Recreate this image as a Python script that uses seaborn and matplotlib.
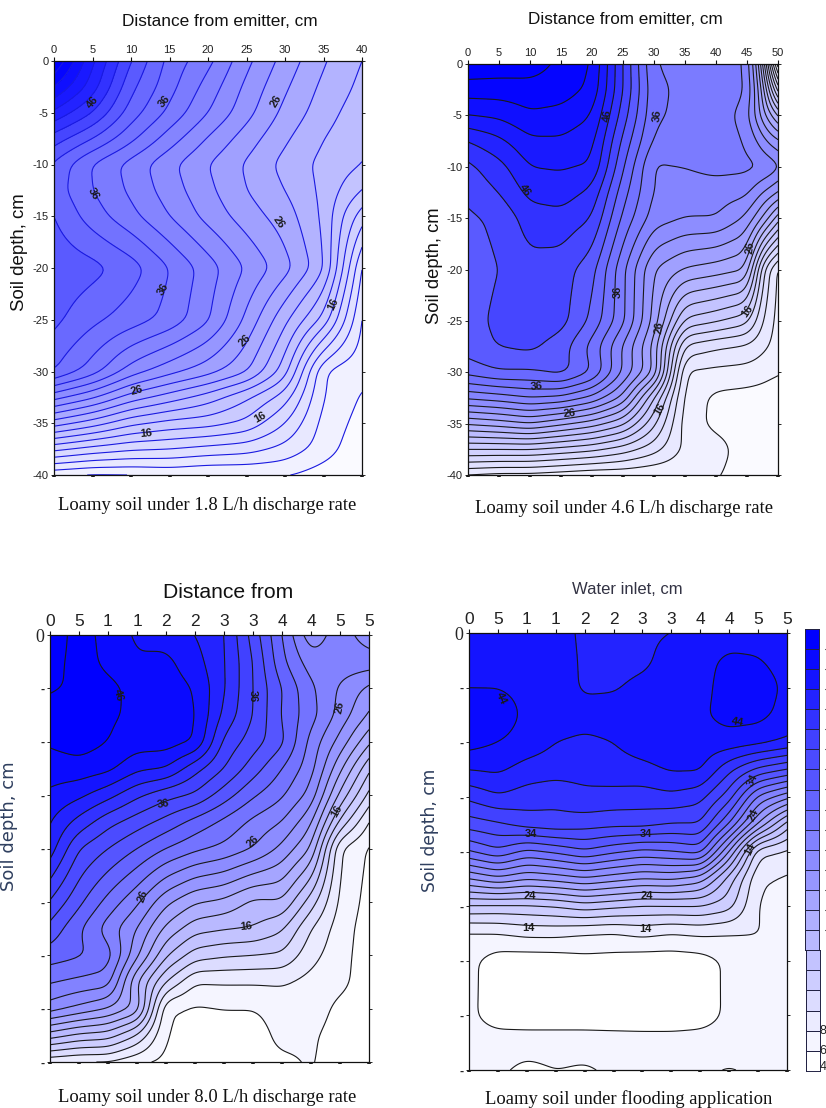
import numpy as np
import matplotlib
matplotlib.use('Agg')
import matplotlib.pyplot as plt
from matplotlib.colors import ListedColormap
import seaborn as sns

W, H = 826, 1108

levels = list(range(4, 60, 2))

# shades of the red/green channel (blue stays 255)
bar_shades = [255, 245, 235, 220, 205, 195, 185, 175, 165, 150, 140,
              130, 115, 100, 85, 75, 65, 50, 35, 20, 10, 0]
wet_values = [4, 6, 10, 16, 22, 30, 40, 46, 54, 58]
wet_shades = [255, 245, 228, 205, 184, 145, 100, 40, 0, 0]

p1_x = [0, 5, 10, 15, 20, 25, 30, 35, 37.5, 40]
p1_depth = [0, -2.5, -5, -7.5, -10, -12.5, -15, -20, -25, -30, -32.5, -35, -37.5, -40]
p1_values = [
    [56, 48.3, 42, 37.3, 34.6, 30.5, 27.2, 24.2, 23, 22],
    [52, 47, 40.5, 36.7, 33.2, 29.5, 26.3, 23.5, 22.5, 21.5],
    [47.5, 44, 39, 35.5, 32, 28.7, 25.4, 22.9, 21.8, 21],
    [43, 40, 36.5, 33, 29.8, 27, 24.3, 22, 21.2, 20.5],
    [39.6, 35.8, 33.2, 30.5, 28, 25.7, 23.3, 21.4, 20.8, 20],
    [39, 36, 33.6, 31, 28.5, 26, 24, 21.5, 19.7, 18],
    [40, 37, 34.6, 32, 29.3, 27, 25, 21.7, 18, 15],
    [41.5, 40.7, 39, 36, 33, 29.8, 26.8, 22.5, 16, 10],
    [40.5, 38.5, 37, 35.3, 32.3, 27.5, 22.5, 17.5, 12.5, 8],
    [38, 35, 31, 28.7, 26.8, 24.3, 19, 8, 7, 6.8],
    [30.7, 28.3, 25, 23, 21, 18.3, 15, 7.8, 6.9, 5.8],
    [23, 21, 18.5, 17.3, 16.8, 15.5, 12, 7.3, 6.3, 5.2],
    [14.5, 13.2, 12.3, 12, 11.3, 10.8, 9.3, 7, 5.7, 4.8],
    [6.5, 5.9, 6, 6.4, 6, 6.1, 6.2, 5, 4.6, 4.3],
]

p2_x = [0, 5, 10, 15, 20, 25, 30, 35, 40, 45, 47.5, 49, 50]
p2_depth = [0, -2.5, -5, -7.5, -10, -12.5, -15, -20, -25, -27.5, -30, -32.5, -35, -37.5, -40]
p2_values = [
    [55.5, 55.2, 55, 53.5, 52, 44, 36, 35.5, 35.3, 34, 24, 10, 5],
    [53, 53, 53.2, 53, 51.5, 44, 36.5, 35.5, 35.3, 34.2, 26, 17, 13.5],
    [50, 50.4, 51.7, 51.3, 50, 43, 36.3, 35.5, 35.3, 33, 27, 24, 22],
    [46, 47.5, 49.6, 49.7, 48.7, 41.5, 35.5, 35.5, 35.3, 33.8, 31, 29, 28.5],
    [43.5, 45.3, 48, 48.2, 47.8, 40.2, 33.7, 34, 34.6, 34.5, 34.1, 33.3, 32.5],
    [42.6, 44, 46.6, 47, 45.5, 38.8, 33.7, 33.2, 33, 32.5, 30, 29, 28],
    [41.6, 42.5, 45, 45.3, 44, 37.5, 33, 32, 32, 29.6, 26, 23, 21],
    [41, 42, 43.3, 43, 40.8, 34.5, 28, 25.8, 25, 24, 12.5, 9, 7.8],
    [41.2, 42.5, 43.2, 42.8, 39.5, 34.5, 27.3, 17.5, 16.3, 14.7, 10, 8.2, 7.4],
    [41, 42.1, 42.5, 41, 37.3, 31.8, 25.5, 11.5, 10.3, 9.6, 8.5, 7.7, 7.2],
    [38.8, 39.9, 39.8, 40.7, 38, 31.8, 26, 7.7, 7.4, 7.2, 6.8, 6.3, 6.2],
    [32.4, 33, 34, 33.5, 31.5, 27.5, 18, 7.3, 5.5, 5.2, 5, 4.9, 4.8],
    [24.3, 25, 26, 24.5, 23, 20.5, 14.5, 7, 5.5, 5, 4.8, 4.6, 4.5],
    [16, 16, 16, 15.3, 14.5, 13, 10.8, 7.5, 6.8, 5, 4.8, 4.5, 4.3],
    [8, 7.5, 7.5, 7, 6.5, 6.5, 6.2, 6.5, 6.2, 5, 4.6, 4.4, 4.2],
]

p3_x = [0, 5, 10, 15, 20, 25, 30, 35, 40, 45, 50, 55]
p3_depth = [0, -2.5, -5, -7.5, -10, -12.5, -15, -17.5, -20, -25, -27.5, -30, -32.5, -35, -37.5, -40]
p3_values = [
    [49.5, 47, 45.2, 43.7, 43.2, 42, 40.2, 35.2, 30, 24.6, 27.2, 24.8],
    [48.7, 47.3, 45.3, 44.2, 44.5, 42.8, 40.2, 36, 30.5, 26.9, 27.2, 27.2],
    [48.2, 47.7, 46.7, 45.2, 45, 43.9, 40.2, 36, 32, 28.4, 25.7, 23.5],
    [47.2, 47, 46.3, 45.6, 45.4, 44.2, 39.5, 36, 31.8, 28.8, 25.3, 21.8],
    [46.3, 47, 46, 45, 45, 44, 37.5, 35, 32.5, 27.3, 23.3, 18.5],
    [45, 45.2, 44.6, 42.5, 42, 38.7, 36, 33, 30, 26.8, 20.5, 14.5],
    [43.6, 42.5, 40.7, 38.4, 36.7, 35.7, 33, 30.3, 28.3, 25.3, 17.5, 11.5],
    [42.1, 39.3, 36.7, 35, 33.3, 31.3, 29.5, 27.5, 26, 22.5, 13.5, 8],
    [41, 36, 34, 32, 30, 28.5, 27.5, 26, 23.5, 20, 8, 5.8],
    [35.8, 32.5, 29.3, 26.4, 22.5, 20.2, 19.5, 17.5, 17.8, 13, 7.5, 5.3],
    [33.3, 30.3, 27, 24, 19.5, 16.8, 16.2, 15.9, 14.3, 10, 7, 5],
    [31, 30.3, 29, 22.5, 16.3, 13, 12.3, 12, 11.7, 8.7, 6.7, 5],
    [28.2, 27.5, 27, 18, 12, 8.1, 8.2, 8.2, 8.2, 7.3, 6.5, 5],
    [25, 23.5, 22, 19.5, 6.3, 5.7, 6, 6, 6.9, 7, 5.5, 5],
    [17, 15.5, 15, 11.8, 6, 5, 5, 5, 6.6, 6.3, 5.2, 4.8],
    [8.5, 8, 8, 6.5, 5.5, 5.2, 5.2, 5.2, 5.6, 6.2, 5, 4.8],
]

p4_x = [0, 5, 10, 15, 20, 25, 30, 35, 40, 45, 50, 55]
p4_depth = [0, -2.5, -5, -7.5, -10, -12.5, -15, -17.5, -20, -22.5, -25, -27.5, -30, -35, -37.5, -40]
p4_values = [
    [43, 43, 43, 43, 41.5, 41.3, 41.6, 42, 43, 43.3, 43.4, 43],
    [43.5, 43.5, 43.4, 43.2, 41.6, 41.2, 41.5, 42.9, 43.5, 44.3, 44.1, 43.3],
    [43.9, 43.9, 43.5, 43.1, 41.7, 41.8, 42.6, 43, 43.4, 44.8, 45, 43.6],
    [45.5, 45.3, 43.5, 43, 42.8, 42.9, 43, 43.2, 43.7, 44.7, 44.6, 43.3],
    [44.8, 44, 43.2, 42, 41.6, 42, 42.9, 43, 43.2, 43.2, 42.7, 41.7],
    [42.1, 42.4, 41.2, 40.9, 40.9, 41.3, 41.5, 42.3, 42.3, 38.5, 35.5, 34],
    [38.5, 39.8, 39, 38.5, 39.4, 39.2, 39, 39.5, 38.7, 35, 27.5, 24.7],
    [35, 35.7, 37, 37.4, 37, 36.7, 36.8, 36, 36, 30, 22, 15],
    [30, 31.7, 29.5, 30.5, 31.8, 30.5, 29.5, 30, 31, 22, 10.5, 9.6],
    [22, 23.5, 22.2, 22.8, 23.7, 22.8, 22, 22.3, 21, 15, 8.3, 7.7],
    [13.7, 13.5, 13.6, 14, 15, 14.4, 13.8, 13.9, 14, 12.8, 7.8, 7.3],
    [7.7, 7.9, 8.5, 8.5, 8, 7.8, 8.5, 7.9, 8.3, 8, 8.1, 7.1],
    [6.5, 5, 4.8, 4.9, 5.3, 5.2, 4.8, 4.9, 5.1, 6.4, 6.9, 7],
    [6.3, 5.3, 5.2, 5.2, 5.2, 5.1, 5, 5, 5.3, 6.3, 6.5, 6.6],
    [6.7, 6.7, 6.7, 6.7, 6.7, 6.7, 6.7, 6.7, 6.7, 6.7, 6.7, 6.7],
    [6.4, 6.3, 5.6, 6, 5.8, 6.3, 6.3, 6.3, 6.3, 5.9, 6.3, 6.3],
]

p1_labels = [(5, -4, '46', 50), (14.3, -3.9, '36', 50), (28.8, -3.9, '26', 60), (5.1, -12.8, '36', -60),
             (29.2, -15.6, '26', -55), (14.2, -22, '36', 60), (24.8, -27, '26', 45), (10.7, -31.8, '26', 15),
             (12, -36, '16', 5), (26.7, -34.4, '16', 30), (36.3, -23.5, '16', 65)]
p2_labels = [(9.2, -12.3, '46', -55), (22.5, -5, '46', 85), (30.5, -5, '36', 85), (45.5, -17.9, '26', 85),
             (24.1, -22.2, '36', 90), (30.8, -25.7, '26', 85), (45, -24.1, '16', 55), (11, -31.4, '36', 5),
             (16.4, -34, '26', 5), (31, -33.6, '16', 60)]
p3_labels = [(11.8, -5.6, '46', -75), (35, -5.7, '36', -90), (50, -6.8, '26', 80), (19.6, -15.8, '36', 10),
             (35, -19.3, '26', 45), (49.5, -16.5, '16', 60), (16, -24.5, '26', 70), (33.8, -27.3, '16', 5)]
p4_labels = [(5.5, -6, '44', -65), (46.5, -8.2, '44', -10), (10.8, -18.4, '34', 0), (30.6, -18.4, '34', 0),
             (49, -13.5, '34', 65), (10.5, -24.1, '24', 0), (30.8, -24.1, '24', 0), (49.2, -16.7, '24', 65),
             (10.2, -27, '14', 0), (30.6, -27.1, '14', 0), (48.6, -19.8, '14', 65)]
captions = ['Loamy soil under 1.8 L/h discharge rate', 'Loamy soil under 4.6 L/h discharge rate',
            'Loamy soil under 8.0 L/h discharge rate', 'Loamy soil under flooding application']
narrow_y = ['0', '-5', '-10', '-15', '-20', '-25', '-30', '-35', '-40']
blank_y = ['0', '-', '-', '-', '-', '-', '-', '-', '-']
cut_x = ['0', '5', '1', '1', '2', '2', '3', '3', '4', '4', '5', '5']

sns.set_theme(style='ticks')
plt.rcParams['font.family'] = ['Liberation Sans', 'DejaVu Sans']

fig = plt.figure(figsize=(W / 100, H / 100), dpi=100)


def box(x0, y0, x1, y1):
    return fig.add_axes([x0 / W, 1 - y1 / H, (x1 - x0) / W, (y1 - y0) / H])


def soften(line, width):
    # two box passes, odd reflection at the ends keeps the edge values in place
    kernel = np.ones(width) / width
    p = np.pad(line, width, mode='reflect', reflect_type='odd')
    for _ in range(2):
        p = np.convolve(p, kernel, mode='same')
    return p[width:-width]


def refine(xs, ds, vals, wide=9, tall=5):
    # finer grid, then soften so the contours are not kinked at the read points
    vals = np.array(vals, dtype=float)
    fx = np.arange(0, max(xs) + 0.01, 0.25)
    fd = np.arange(-40, 0.01, 0.25)
    a = np.array([np.interp(fx, xs, row) for row in vals])
    order = np.argsort(ds)
    a = np.array([np.interp(fd, np.array(ds)[order], a[order, j]) for j in range(a.shape[1])]).T
    a = np.array([soften(r, wide) for r in a])
    a = np.array([soften(c, tall) for c in a.T]).T
    return fx, fd, a


def shade_colors(use_bar):
    mids = np.array(levels[:-1]) + 1
    if use_bar:
        s = [bar_shades[min((m - 5) // 2, 21)] for m in mids]
    else:
        s = np.interp(mids, wet_values, wet_shades)
    return [(v / 255, v / 255, 1.0) for v in s]


def panel(pos, xs, ds, vals, labels, use_bar, line_color, big):
    ax = box(*pos)
    fx, fd, z = refine(xs, ds, vals)
    ax.contourf(fx, fd, z, levels=levels, colors=shade_colors(use_bar), extend='neither')
    ax.contour(fx, fd, z, levels=levels, colors=line_color, linewidths=0.8, linestyles='solid')
    xmax = max(xs)
    ax.set_xlim(0, xmax)
    ax.set_ylim(-40, 0)
    ax.set_xticks(np.arange(0, xmax + 1, 5))
    ax.set_yticks(np.arange(-40, 1, 5)[::-1])
    for s in ax.spines.values():
        s.set_linewidth(0.9)
        s.set_color('#111111')
    ax.tick_params(axis='x', which='both', top=True, labeltop=True, bottom=False, labelbottom=False,
                   length=3, width=0.8, pad=1.5, color='#111111')
    # short thick marks along the lower edge
    for t in np.arange(0, xmax + 1, 5):
        ax.plot([t, t], [-40, -40.15], color='k', lw=2.6, clip_on=False, solid_capstyle='butt', zorder=5)
    ax.tick_params(axis='y', right=True, length=2.5, width=0.7, pad=1.5)
    if big:
        ax.set_xticklabels(cut_x, fontsize=12.5, color='#222222')
        ax.set_yticklabels(blank_y, fontsize=9, fontweight='bold')
        ax.get_yticklabels()[0].set_fontfamily('Liberation Serif')
        ax.get_yticklabels()[0].set_fontsize(13)
        ax.get_yticklabels()[0].set_fontweight('normal')
    else:
        ax.set_xticklabels([str(int(t)) for t in ax.get_xticks()], fontsize=8, color='#222222')
        ax.set_yticklabels(narrow_y, fontsize=8, color='#222222')
    for x, d, txt, rot in labels:
        ax.text(x, d, txt, fontsize=8, fontweight='bold', rotation=rot,
                ha='center', va='center', color='k', zorder=6)
    return ax


panel((54, 61, 362, 475), p1_x, p1_depth, p1_values, p1_labels, False, '#1a1ae0', False)
panel((468, 64, 778, 475), p2_x, p2_depth, p2_values, p2_labels, False, 'k', False)
panel((50, 635, 369, 1062), p3_x, p3_depth, p3_values, p3_labels, True, 'k', True)
panel((469, 633, 787, 1070), p4_x, p4_depth, p4_values, p4_labels, True, 'k', True)


def px_text(x, y, s, **kw):
    fig.text(x / W, 1 - y / H, s, ha='center', va='center', **kw)


px_text(220, 21, 'Distance from emitter, cm', fontsize=12.4, color='#111111')
px_text(625, 20, 'Distance from emitter, cm', fontsize=12.3, color='#111111')
px_text(228, 592, 'Distance from', fontsize=15.2, color='#111111')
px_text(627, 589, 'Water inlet, cm', fontsize=12, color='#333344')
px_text(20, 252, 'Soil depth, cm', fontsize=13.4, rotation=90, color='#111111')
px_text(434, 266, 'Soil depth, cm', fontsize=13.2, rotation=90, color='#111111')
px_text(9, 826, 'Soil depth, cm', fontsize=13, rotation=90, color='#2f3f5f', family='DejaVu Sans')
px_text(430, 830, 'Soil depth, cm', fontsize=12.3, rotation=90, color='#2f3f5f', family='DejaVu Sans')
for (cx, cy), cap in zip([(207, 506), (624, 508), (207, 1097), (629, 1099)], captions):
    px_text(cx, cy, cap, fontsize=13.4, family='Liberation Serif', color='#111111')

# colour boxes on the right: upper and lower part sit slightly apart
bar_cells = np.arange(len(bar_shades))[::-1].reshape(-1, 1)
bar_cmap = ListedColormap([(v / 255, v / 255, 1.0) for v in bar_shades])
top_ax = box(805, 629, 818.5, 950)
sns.heatmap(bar_cells[:16], ax=top_ax, cmap=bar_cmap, vmin=-0.5, vmax=21.5, cbar=False,
            linewidths=0.45, linecolor='#222244', xticklabels=False, yticklabels=False)
low_ax = box(806, 950, 820, 1071)
sns.heatmap(bar_cells[16:], ax=low_ax, cmap=bar_cmap, vmin=-0.5, vmax=21.5, cbar=False,
            linewidths=0.45, linecolor='#222244', xticklabels=False, yticklabels=False)
for bar_ax in (top_ax, low_ax):
    for s in bar_ax.spines.values():
        s.set_visible(True)
        s.set_linewidth(0.7)
        s.set_color('#222244')
for name, y in zip(['8', '6', '4'], [1031, 1051, 1067]):
    fig.text(819.8 / W, 1 - y / H, name, fontsize=9, va='center', ha='left', color='#222222')
for i in range(1, 16):
    y = 629 + i * 20.06
    fig.add_artist(plt.Line2D([824.5 / W, 826 / W], [1 - y / H, 1 - y / H], color='#555555', lw=0.8))

fig.savefig('out.png', dpi=100)
